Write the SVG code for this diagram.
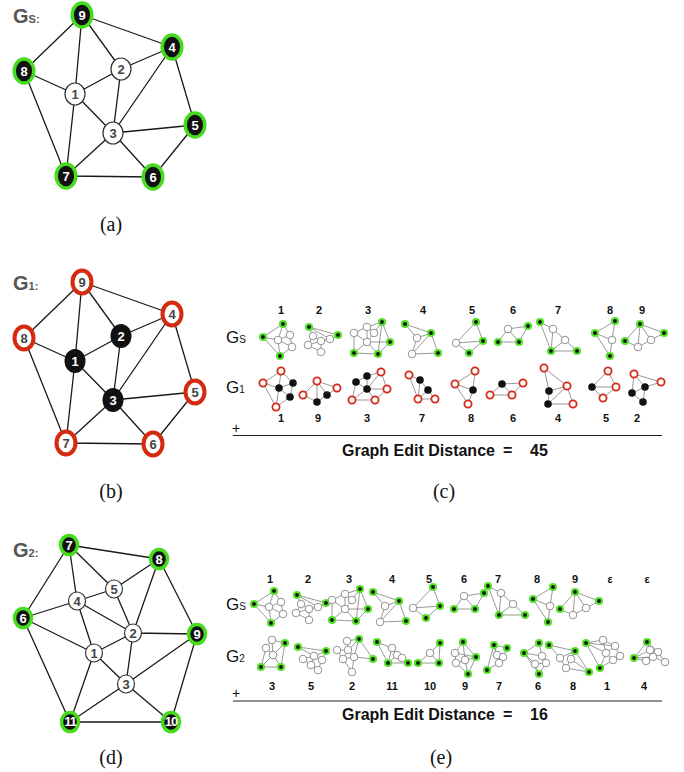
<svg xmlns="http://www.w3.org/2000/svg" xmlns:xlink="http://www.w3.org/1999/xlink" width="684" height="772" viewBox="0 0 684 772">
<style>
.bg{fill:#fff}
.e{stroke:#1a1a1a;stroke-width:1.3;fill:none}
.ng{fill:#111;stroke:#45dc1e;stroke-width:3.5}
.nw{fill:#fff;stroke:#333;stroke-width:1.2}
.nr{fill:#fff;stroke:#d42a10;stroke-width:4}
.nb{fill:#111}
.lw{font-family:"Liberation Sans",Arial,sans-serif;font-weight:bold;font-size:13px;fill:#fff;text-anchor:middle}
.lg{font-family:"Liberation Sans",Arial,sans-serif;font-weight:bold;font-size:13px;fill:#444;text-anchor:middle}
.gl{font-family:"Liberation Sans",Arial,sans-serif;font-weight:bold;fill:#555}
.cap{font-family:"Liberation Serif","Times New Roman",serif;font-size:20px;fill:#111;text-anchor:middle}
.num{font-family:"Liberation Sans",Arial,sans-serif;font-weight:bold;font-size:11px;fill:#111;text-anchor:middle}
.rl{font-family:"Liberation Sans",Arial,sans-serif;fill:#111}
.ged{font-family:"Liberation Sans",Arial,sans-serif;font-weight:bold;font-size:16px;fill:#111}
.te{stroke:#808080;stroke-width:0.8;fill:none}
.tg{fill:#111;stroke:#55e02a;stroke-width:2.2}
.tw{fill:#fff;stroke:#777;stroke-width:0.8}
.tr{fill:#fff;stroke:#d42a1a;stroke-width:1.8}
.tb{fill:#111}
</style>
<defs>
<g id="gs1"><path class="te" d="M283,324L263,337L280,356L292,347L290,335L283,324L278,340L263,337M278,340L280,356M278,340L290,335M278,340L292,347"/><circle class="tw" cx="278" cy="340" r="3.8"/><circle class="tw" cx="290" cy="335" r="3.8"/><circle class="tw" cx="292" cy="347" r="3.8"/><circle class="tg" cx="283" cy="324" r="3"/><circle class="tg" cx="263" cy="337" r="3"/><circle class="tg" cx="280" cy="356" r="3"/></g>
<g id="gs2"><path class="te" d="M309,327L338,335L330,339L321,341L313,336L309,327L330,339M313,336L308,345L321,352L321,341L308,345"/><circle class="tw" cx="313" cy="336" r="3.8"/><circle class="tw" cx="330" cy="339" r="3.8"/><circle class="tw" cx="321" cy="341" r="3.8"/><circle class="tw" cx="308" cy="345" r="3.8"/><circle class="tw" cx="321" cy="352" r="3.8"/><circle class="tg" cx="309" cy="327" r="3"/><circle class="tg" cx="338" cy="335" r="3"/></g>
<g id="gs3"><path class="te" d="M382,322L367,327L354,333L354,353L378,354L390,342L382,322L374,333L367,342L354,353M367,327L367,342L390,342M354,333L367,342L378,354M367,327L374,333M382,322L378,354"/><circle class="tw" cx="354" cy="333" r="3.8"/><circle class="tw" cx="367" cy="327" r="3.8"/><circle class="tw" cx="374" cy="333" r="3.8"/><circle class="tw" cx="367" cy="342" r="3.8"/><circle class="tg" cx="382" cy="322" r="3"/><circle class="tg" cx="390" cy="342" r="3"/><circle class="tg" cx="354" cy="353" r="3"/><circle class="tg" cx="378" cy="354" r="3"/></g>
<g id="gs4"><path class="te" d="M405,324L431,333L438,353L412,354L417,338L405,324M417,338L431,333L412,354"/><circle class="tw" cx="417" cy="338" r="3.8"/><circle class="tw" cx="412" cy="354" r="3.8"/><circle class="tg" cx="405" cy="324" r="3"/><circle class="tg" cx="431" cy="333" r="3"/><circle class="tg" cx="438" cy="353" r="3"/></g>
<g id="gs5"><path class="te" d="M476,322L456,343L469,353L483,341L476,322M456,343L483,341"/><circle class="tw" cx="456" cy="343" r="3.8"/><circle class="tg" cx="476" cy="322" r="3"/><circle class="tg" cx="483" cy="341" r="3"/><circle class="tg" cx="469" cy="353" r="3"/></g>
<g id="gs6"><path class="te" d="M508,329L528,326L519,342L498,342L508,329L519,342"/><circle class="tw" cx="508" cy="329" r="3.8"/><circle class="tg" cx="528" cy="326" r="3"/><circle class="tg" cx="498" cy="342" r="3"/><circle class="tg" cx="519" cy="342" r="3"/></g>
<g id="gs7"><path class="te" d="M540,322L553,329L565,340L577,351L551,351L540,322M553,329L551,351L565,340"/><circle class="tw" cx="553" cy="329" r="3.8"/><circle class="tw" cx="565" cy="340" r="3.8"/><circle class="tg" cx="540" cy="322" r="3"/><circle class="tg" cx="551" cy="351" r="3"/><circle class="tg" cx="577" cy="351" r="3"/></g>
<g id="gs8"><path class="te" d="M615,321L595,333L610,356L612,340L615,321M595,333L612,340"/><circle class="tw" cx="612" cy="340" r="3.8"/><circle class="tg" cx="615" cy="321" r="3"/><circle class="tg" cx="595" cy="333" r="3"/><circle class="tg" cx="610" cy="356" r="3"/></g>
<g id="gs9"><path class="te" d="M640,324L625,341L638,347L651,340L664,333L640,324L638,347M640,324L651,340"/><circle class="tw" cx="651" cy="340" r="3.8"/><circle class="tw" cx="638" cy="347" r="3.8"/><circle class="tg" cx="640" cy="324" r="3"/><circle class="tg" cx="664" cy="333" r="3"/><circle class="tg" cx="625" cy="341" r="3"/></g>
</defs>
<rect class="bg" x="0" y="0" width="684" height="772"/>

<!-- (a) Gs -->
<g id="graph-a">
<text class="gl" x="13" y="23"><tspan font-size="20">G</tspan><tspan font-size="11">S:</tspan></text>
<g id="a-edges">
<path class="e" d="M82,15L24,71M82,15L75,94M82,15L121,69M82,15L172,47M24,71L75,94M24,71L66,176M75,94L121,69M75,94L113,133M75,94L66,176M121,69L172,47M121,69L113,133M113,133L172,47M113,133L195,125M113,133L66,176M113,133L153,177M172,47L195,125M195,125L153,177M66,176L153,177"/>
</g>
<g id="a-n1"><ellipse class="nw" cx="75" cy="94" rx="10" ry="11"/><text class="lg" x="75" y="98.5">1</text></g>
<g id="a-n2"><ellipse class="nw" cx="121" cy="69" rx="10" ry="11"/><text class="lg" x="121" y="73.5">2</text></g>
<g id="a-n3"><ellipse class="nw" cx="113" cy="133" rx="10" ry="11"/><text class="lg" x="113" y="137.5">3</text></g>
<g id="a-n4"><ellipse class="ng" cx="172" cy="47" rx="9.8" ry="12"/><text class="lw" x="172" y="51.5">4</text></g>
<g id="a-n5"><ellipse class="ng" cx="195" cy="125" rx="9.8" ry="12"/><text class="lw" x="195" y="129.5">5</text></g>
<g id="a-n6"><ellipse class="ng" cx="153" cy="177" rx="9.8" ry="12"/><text class="lw" x="153" y="181.5">6</text></g>
<g id="a-n7"><ellipse class="ng" cx="66" cy="176" rx="9.8" ry="12"/><text class="lw" x="66" y="180.5">7</text></g>
<g id="a-n8"><ellipse class="ng" cx="24" cy="71" rx="9.8" ry="12"/><text class="lw" x="24" y="75.5">8</text></g>
<g id="a-n9"><ellipse class="ng" cx="82" cy="15" rx="9.8" ry="12"/><text class="lw" x="82" y="19.5">9</text></g>
</g>
<text class="cap" x="111" y="231">(a)</text>

<!-- (b) G1 -->
<g id="graph-b" transform="translate(0,267)">
<text class="gl" x="13" y="23"><tspan font-size="20">G</tspan><tspan font-size="11">1:</tspan></text>
<g id="b-edges">
<path class="e" d="M82,15L24,71M82,15L75,94M82,15L121,69M82,15L172,47M24,71L75,94M24,71L66,176M75,94L121,69M75,94L113,133M75,94L66,176M121,69L172,47M121,69L113,133M113,133L172,47M113,133L195,125M113,133L66,176M113,133L153,177M172,47L195,125M195,125L153,177M66,176L153,177"/>
</g>
<g id="b-n1"><ellipse class="nb" cx="75" cy="94" rx="10.5" ry="12"/><text class="lw" x="75" y="98.5">1</text></g>
<g id="b-n2"><ellipse class="nb" cx="121" cy="69" rx="10.5" ry="12"/><text class="lw" x="121" y="73.5">2</text></g>
<g id="b-n3"><ellipse class="nb" cx="113" cy="133" rx="10.5" ry="12"/><text class="lw" x="113" y="137.5">3</text></g>
<g id="b-n4"><ellipse class="nr" cx="172" cy="47" rx="9.5" ry="11.5"/><text class="lg" x="172" y="51.5">4</text></g>
<g id="b-n5"><ellipse class="nr" cx="195" cy="125" rx="9.5" ry="11.5"/><text class="lg" x="195" y="129.5">5</text></g>
<g id="b-n6"><ellipse class="nr" cx="153" cy="177" rx="9.5" ry="11.5"/><text class="lg" x="153" y="181.5">6</text></g>
<g id="b-n7"><ellipse class="nr" cx="66" cy="176" rx="9.5" ry="11.5"/><text class="lg" x="66" y="180.5">7</text></g>
<g id="b-n8"><ellipse class="nr" cx="24" cy="71" rx="9.5" ry="11.5"/><text class="lg" x="24" y="75.5">8</text></g>
<g id="b-n9"><ellipse class="nr" cx="82" cy="15" rx="9.5" ry="11.5"/><text class="lg" x="82" y="19.5">9</text></g>
</g>
<text class="cap" x="111" y="498">(b)</text>

<!-- (d) G2 -->
<g id="graph-d">
<text class="gl" x="13" y="557"><tspan font-size="20">G</tspan><tspan font-size="11">2:</tspan></text>
<g id="d-edges">
<path class="e" d="M69,545L159,559M69,545L23,618M69,545L77,601M69,545L114,589M159,559L114,589M159,559L133,633M159,559L197,634M114,589L77,601M114,589L133,633M77,601L23,618M77,601L133,633M77,601L94,653M23,618L94,653M23,618L70,722M133,633L197,634M133,633L94,653M133,633L126,684M94,653L70,722M94,653L126,684M197,634L126,684M197,634L171,722M126,684L70,722M126,684L171,722M70,722L171,722"/>
</g>
<g id="d-n1"><ellipse class="nw" cx="94" cy="653" rx="8.5" ry="9"/><text class="lg" x="94" y="657.5" font-size="12">1</text></g>
<g id="d-n2"><ellipse class="nw" cx="133" cy="633" rx="8.5" ry="9"/><text class="lg" x="133" y="637.5" font-size="12">2</text></g>
<g id="d-n3"><ellipse class="nw" cx="126" cy="684" rx="8.5" ry="9"/><text class="lg" x="126" y="688.5" font-size="12">3</text></g>
<g id="d-n4"><ellipse class="nw" cx="77" cy="601" rx="8.5" ry="9"/><text class="lg" x="77" y="605.5" font-size="12">4</text></g>
<g id="d-n5"><ellipse class="nw" cx="114" cy="589" rx="8.5" ry="9"/><text class="lg" x="114" y="593.5" font-size="12">5</text></g>
<g id="d-n6"><ellipse class="ng" cx="23" cy="618" rx="8.5" ry="9.5"/><text class="lw" x="23" y="622.5" font-size="12">6</text></g>
<g id="d-n7"><ellipse class="ng" cx="69" cy="545" rx="8.5" ry="9.5"/><text class="lw" x="69" y="549.5" font-size="12">7</text></g>
<g id="d-n8"><ellipse class="ng" cx="159" cy="559" rx="8.5" ry="9.5"/><text class="lw" x="159" y="563.5" font-size="12">8</text></g>
<g id="d-n9"><ellipse class="ng" cx="197" cy="634" rx="8.5" ry="9.5"/><text class="lw" x="197" y="638.5" font-size="12">9</text></g>
<g id="d-n10"><ellipse class="ng" cx="171" cy="722" rx="8.5" ry="9.5"/><text class="lw" x="171" y="726" font-size="11" letter-spacing="-1">10</text></g>
<g id="d-n11"><ellipse class="ng" cx="70" cy="722" rx="8.5" ry="9.5"/><text class="lw" x="70" y="726" font-size="11" letter-spacing="-1">11</text></g>
</g>
<text class="cap" x="111" y="764">(d)</text>

<!-- (c) -->
<g id="panel-c">
<text class="rl" x="226" y="343"><tspan font-size="17">G</tspan><tspan font-size="10">S</tspan></text>
<text class="rl" x="226" y="393"><tspan font-size="17">G</tspan><tspan font-size="10">1</tspan></text>
<g id="c-top-nums">
<text class="num" x="281" y="314">1</text><text class="num" x="319" y="314">2</text><text class="num" x="368" y="314">3</text><text class="num" x="423" y="314">4</text><text class="num" x="472" y="314">5</text><text class="num" x="513" y="314">6</text><text class="num" x="558" y="314">7</text><text class="num" x="610" y="314">8</text><text class="num" x="642" y="314">9</text>
</g>
<g id="c-gs">
<use href="#gs1"/><use href="#gs2"/><use href="#gs3"/><use href="#gs4"/><use href="#gs5"/><use href="#gs6"/><use href="#gs7"/><use href="#gs8"/><use href="#gs9"/>
</g>
<g id="c-g1">
<g><path class="te" d="M281,371L263,383L276,407L279,388L281,371L293,383L290,397L279,388L263,383M293,383L279,388M290,397L276,407"/><circle class="tb" cx="279" cy="388" r="3.8"/><circle class="tb" cx="293" cy="383" r="3.8"/><circle class="tb" cx="290" cy="397" r="3.8"/><circle class="tr" cx="281" cy="371" r="3.6"/><circle class="tr" cx="263" cy="383" r="3.6"/><circle class="tr" cx="276" cy="407" r="3.6"/></g>
<g><path class="te" d="M303,395L317,381L337,388L327,395L317,402L303,395M317,381L317,402M317,381L327,395"/><circle class="tb" cx="317" cy="402" r="3.8"/><circle class="tb" cx="327" cy="395" r="3.8"/><circle class="tr" cx="317" cy="381" r="3.6"/><circle class="tr" cx="303" cy="395" r="3.6"/><circle class="tr" cx="337" cy="388" r="3.6"/></g>
<g><path class="te" d="M381,372L367,376L356,382L352,400L375,400L387,389L381,372L367,389L356,382M367,376L367,389L352,400M367,389L375,400M367,389L387,389"/><circle class="tb" cx="367" cy="376" r="3.8"/><circle class="tb" cx="356" cy="382" r="3.8"/><circle class="tb" cx="367" cy="389" r="3.8"/><circle class="tr" cx="381" cy="372" r="3.6"/><circle class="tr" cx="387" cy="389" r="3.6"/><circle class="tr" cx="352" cy="400" r="3.6"/><circle class="tr" cx="375" cy="400" r="3.6"/></g>
<g><path class="te" d="M409,375L420,380L428,390L435,399L418,399L409,375M420,380L418,399L428,390"/><circle class="tb" cx="420" cy="380" r="3.8"/><circle class="tb" cx="428" cy="390" r="3.8"/><circle class="tr" cx="409" cy="375" r="3.6"/><circle class="tr" cx="418" cy="399" r="3.6"/><circle class="tr" cx="435" cy="399" r="3.6"/></g>
<g><path class="te" d="M475,371L455,384L468,404L473,390L475,371M455,384L473,390"/><circle class="tb" cx="473" cy="390" r="3.8"/><circle class="tr" cx="475" cy="371" r="3.6"/><circle class="tr" cx="455" cy="384" r="3.6"/><circle class="tr" cx="468" cy="404" r="3.6"/></g>
<g><path class="te" d="M502,384L523,383L512,395L490,395L502,384L512,395"/><circle class="tb" cx="502" cy="384" r="3.8"/><circle class="tr" cx="523" cy="383" r="3.6"/><circle class="tr" cx="490" cy="395" r="3.6"/><circle class="tr" cx="512" cy="395" r="3.6"/></g>
<g><path class="te" d="M544,368L567,386L573,404L548,404L549,391L544,368M549,391L567,386L548,404"/><circle class="tb" cx="549" cy="391" r="3.8"/><circle class="tb" cx="548" cy="404" r="3.8"/><circle class="tr" cx="544" cy="368" r="3.6"/><circle class="tr" cx="567" cy="386" r="3.6"/><circle class="tr" cx="573" cy="404" r="3.6"/></g>
<g><path class="te" d="M608,371L592,387L603,398L616,387L608,371M592,387L616,387"/><circle class="tb" cx="592" cy="387" r="3.8"/><circle class="tr" cx="608" cy="371" r="3.6"/><circle class="tr" cx="616" cy="387" r="3.6"/><circle class="tr" cx="603" cy="398" r="3.6"/></g>
<g><path class="te" d="M634,374L661,382L645,387L634,374L632,393L643,402L645,387L632,393"/><circle class="tb" cx="645" cy="387" r="3.8"/><circle class="tb" cx="632" cy="393" r="3.8"/><circle class="tb" cx="643" cy="402" r="3.8"/><circle class="tr" cx="634" cy="374" r="3.6"/><circle class="tr" cx="661" cy="382" r="3.6"/></g>
</g>
<g id="c-bot-nums">
<text class="num" x="281" y="422">1</text><text class="num" x="318" y="422">9</text><text class="num" x="367" y="422">3</text><text class="num" x="422" y="422">7</text><text class="num" x="471" y="422">8</text><text class="num" x="513" y="422">6</text><text class="num" x="558" y="422">4</text><text class="num" x="606" y="422">5</text><text class="num" x="637" y="422">2</text>
</g>
<text class="rl" x="236" y="433" font-size="14" text-anchor="middle">+</text>
<line x1="233" y1="435.5" x2="662" y2="435.5" stroke="#222" stroke-width="1.2"/>
<text class="ged" x="342" y="456">Graph Edit Distance</text><text class="ged" x="503" y="456">=</text><text class="ged" x="530" y="456">45</text>
</g>
<text class="cap" x="444" y="498">(c)</text>

<!-- (e) -->
<g id="panel-e">
<text class="rl" x="226" y="610"><tspan font-size="17">G</tspan><tspan font-size="10">S</tspan></text>
<text class="rl" x="226" y="662"><tspan font-size="17">G</tspan><tspan font-size="10">2</tspan></text>
<g id="e-top-nums">
<text class="num" x="270" y="583">1</text><text class="num" x="308" y="583">2</text><text class="num" x="349" y="583">3</text><text class="num" x="392" y="583">4</text><text class="num" x="429" y="583">5</text><text class="num" x="464" y="583">6</text><text class="num" x="498" y="583">7</text><text class="num" x="537" y="583">8</text><text class="num" x="575" y="583">9</text><text class="num" x="610" y="583">ε</text><text class="num" x="647" y="583">ε</text>
</g>
<g id="e-gs">
<use href="#gs1" transform="translate(-9,267)"/><use href="#gs2" transform="translate(-12,268)"/><use href="#gs3" transform="translate(-22,267)"/><use href="#gs4" transform="translate(-32,268)"/><use href="#gs5" transform="translate(-43,265)"/><use href="#gs6" transform="translate(-44,267)"/><use href="#gs7" transform="translate(-52,264)"/><use href="#gs8" transform="translate(-62,266)"/><use href="#gs9" transform="translate(-65,268)"/>
</g>
<g id="e-g2">
<g><path class="te" d="M272,640L285,643L281,667L261,667L266,648L272,640L273,655L261,667M266,648L273,655L281,667M273,655L285,643"/><circle class="tw" cx="272" cy="640" r="3.8"/><circle class="tw" cx="266" cy="648" r="3.8"/><circle class="tw" cx="273" cy="655" r="3.8"/><circle class="tg" cx="285" cy="643" r="3"/><circle class="tg" cx="261" cy="667" r="3"/><circle class="tg" cx="281" cy="667" r="3"/></g>
<g><path class="te" d="M298,647L326,651L322,660L314,656L298,647M303,659L314,656L311,665L303,659M311,665L318,670L322,660M326,651L314,656"/><circle class="tw" cx="303" cy="659" r="3.8"/><circle class="tw" cx="314" cy="656" r="3.8"/><circle class="tw" cx="322" cy="660" r="3.8"/><circle class="tw" cx="311" cy="665" r="3.8"/><circle class="tw" cx="318" cy="670" r="3.8"/><circle class="tg" cx="298" cy="647" r="3"/><circle class="tg" cx="326" cy="651" r="3"/></g>
<g><path class="te" d="M347,641L359,639L373,659L354,657L348,650L347,641M337,650L348,650L359,639L354,657L352,672L343,659L337,650M343,659L354,657M343,659L348,650"/><circle class="tw" cx="347" cy="641" r="3.8"/><circle class="tw" cx="337" cy="650" r="3.8"/><circle class="tw" cx="348" cy="650" r="3.8"/><circle class="tw" cx="343" cy="659" r="3.8"/><circle class="tw" cx="354" cy="657" r="3.8"/><circle class="tw" cx="352" cy="672" r="3.8"/><circle class="tg" cx="359" cy="639" r="3"/><circle class="tg" cx="373" cy="659" r="3"/></g>
<g><path class="te" d="M377,642L392,648L397,655L402,658L408,663L388,663L377,642M392,648L388,663L397,655"/><circle class="tw" cx="392" cy="648" r="3.8"/><circle class="tw" cx="397" cy="655" r="3.8"/><circle class="tw" cx="402" cy="658" r="3.8"/><circle class="tg" cx="377" cy="642" r="3"/><circle class="tg" cx="388" cy="663" r="3"/><circle class="tg" cx="408" cy="663" r="3"/></g>
<g><path class="te" d="M440,643L430,653L418,663L439,663L440,643M430,653L439,663"/><circle class="tw" cx="430" cy="653" r="3.8"/><circle class="tg" cx="440" cy="643" r="3"/><circle class="tg" cx="418" cy="663" r="3"/><circle class="tg" cx="439" cy="663" r="3"/></g>
<g><path class="te" d="M463,642L455,653L456,663L468,674L476,657L463,642L465,660L468,674M455,653L476,657L456,663"/><circle class="tw" cx="455" cy="653" r="3.8"/><circle class="tw" cx="456" cy="663" r="3.8"/><circle class="tw" cx="465" cy="660" r="3.8"/><circle class="tg" cx="463" cy="642" r="3"/><circle class="tg" cx="476" cy="657" r="3"/><circle class="tg" cx="468" cy="674" r="3"/></g>
<g><path class="te" d="M494,645L507,648L503,657L499,663L487,670L494,645L497,655L503,657M494,645L499,663"/><circle class="tw" cx="497" cy="655" r="3.8"/><circle class="tw" cx="503" cy="657" r="3.8"/><circle class="tw" cx="499" cy="663" r="3.8"/><circle class="tg" cx="494" cy="645" r="3"/><circle class="tg" cx="507" cy="648" r="3"/><circle class="tg" cx="487" cy="670" r="3"/></g>
<g><path class="te" d="M539,643L524,653L539,674L546,663L542,656L539,643M524,653L542,656M524,653L535,664L539,674M535,664L546,663"/><circle class="tw" cx="542" cy="656" r="3.8"/><circle class="tw" cx="546" cy="663" r="3.8"/><circle class="tw" cx="535" cy="664" r="3.8"/><circle class="tg" cx="539" cy="643" r="3"/><circle class="tg" cx="524" cy="653" r="3"/><circle class="tg" cx="539" cy="674" r="3"/></g>
<g><path class="te" d="M549,645L575,651L589,672L566,668L560,658L549,645M560,658L575,651L571,659L566,668M571,659L589,672"/><circle class="tw" cx="560" cy="658" r="3.8"/><circle class="tw" cx="571" cy="659" r="3.8"/><circle class="tw" cx="566" cy="668" r="3.8"/><circle class="tg" cx="549" cy="645" r="3"/><circle class="tg" cx="575" cy="651" r="3"/><circle class="tg" cx="589" cy="672" r="3"/></g>
<g><path class="te" d="M586,643L603,640L615,646L620,656L613,660L600,668L586,643L606,653L615,646M603,640L606,653L613,660M606,653L600,668M586,643L615,646"/><circle class="tw" cx="603" cy="640" r="3.8"/><circle class="tw" cx="615" cy="646" r="3.8"/><circle class="tw" cx="606" cy="653" r="3.8"/><circle class="tw" cx="620" cy="656" r="3.8"/><circle class="tw" cx="613" cy="660" r="3.8"/><circle class="tg" cx="586" cy="643" r="3"/><circle class="tg" cx="600" cy="668" r="3"/></g>
<g><path class="te" d="M647,642L634,658L650,650L647,642L658,652L665,662L653,657L650,650L658,652M634,658L653,657M634,658L646,661L653,657"/><circle class="tw" cx="650" cy="650" r="3.8"/><circle class="tw" cx="658" cy="652" r="3.8"/><circle class="tw" cx="653" cy="657" r="3.8"/><circle class="tw" cx="665" cy="662" r="3.8"/><circle class="tw" cx="646" cy="661" r="3.8"/><circle class="tg" cx="647" cy="642" r="3"/><circle class="tg" cx="634" cy="658" r="3"/></g>
</g>
<g id="e-bot-nums">
<text class="num" x="272" y="690">3</text><text class="num" x="311" y="690">5</text><text class="num" x="352" y="690">2</text><text class="num" x="392" y="690">11</text><text class="num" x="430" y="690">10</text><text class="num" x="465" y="690">9</text><text class="num" x="499" y="690">7</text><text class="num" x="538" y="690">6</text><text class="num" x="573" y="690">8</text><text class="num" x="607" y="690">1</text><text class="num" x="644" y="690">4</text>
</g>
<text class="rl" x="236" y="698" font-size="14" text-anchor="middle">+</text>
<line x1="233" y1="701" x2="662" y2="701" stroke="#222" stroke-width="1.2"/>
<text class="ged" x="342" y="720">Graph Edit Distance</text><text class="ged" x="503" y="720">=</text><text class="ged" x="530" y="720">16</text>
</g>
<text class="cap" x="441" y="764">(e)</text>
</svg>
